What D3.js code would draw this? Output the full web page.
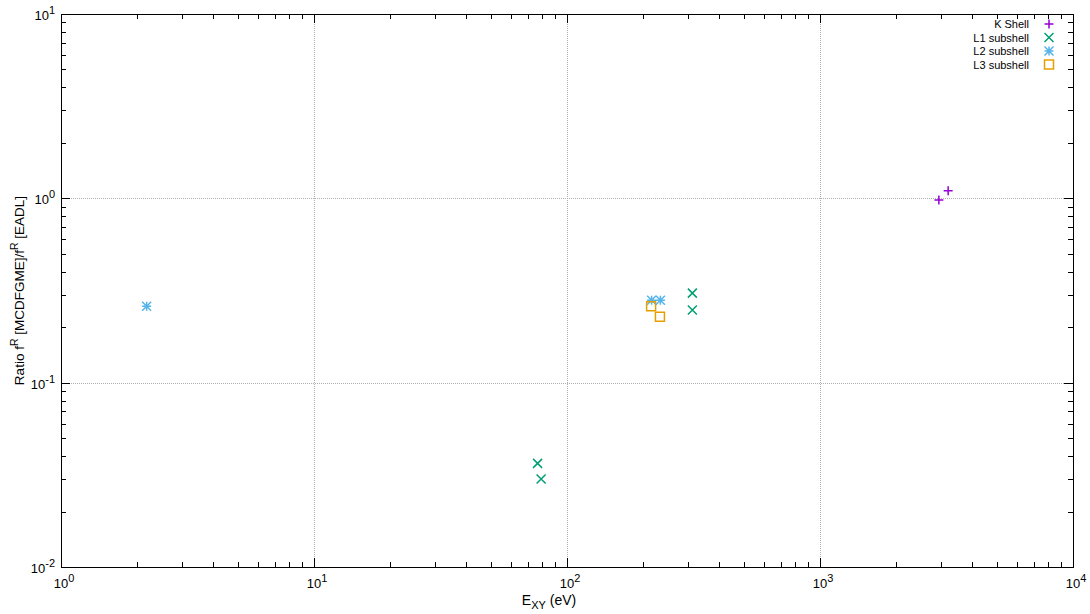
<!DOCTYPE html>
<html>
<head>
<meta charset="utf-8">
<script src="https://cdn.jsdelivr.net/npm/d3@7"></script>
<style>
  body { margin: 0; background: #fff; }
  svg { display: block; font-family: "Liberation Sans", Arial, sans-serif; }
</style>
</head>
<body>
<div id="chart"></div>
<script>
// data
const kShell = [[2950, 0.98], [3210, 1.10]];
const l1Shell = [[76.5, 0.0365], [79, 0.030], [313, 0.306], [313, 0.248]];
const l2Shell = [[2.18, 0.26], [216, 0.28], [234, 0.28]];
const l3Shell = [[215, 0.26], [233, 0.228]];

const SERIES = [
  { name: 'K Shell', pts: kShell, color: '#9400d3', sym: 'plus' },
  { name: 'L1 subshell', pts: l1Shell, color: '#009e73', sym: 'cross' },
  { name: 'L2 subshell', pts: l2Shell, color: '#56b4e9', sym: 'star' },
  { name: 'L3 subshell', pts: l3Shell, color: '#e69f00', sym: 'square' }
];

const xMajor = [1, 10, 100, 1000, 10000];
const yMajor = [0.01, 0.1, 1, 10];

const W = 1090, H = 614;
const m = { left: 61, right: 17, top: 14, bottom: 47 };

const svg = d3.select('#chart').append('svg').attr('width', W).attr('height', H);

const x = d3.scaleLog().domain([1, 10000]).range([m.left, W - m.right]);
const y = d3.scaleLog().domain([0.01, 10]).range([H - m.bottom, m.top]);

function minors(majors) {
  const out = [];
  for (let i = 0; i < majors.length - 1; i++)
    for (let k = 2; k <= 9; k++) out.push(majors[i] * k);
  return out;
}

// grid
svg.append('g').selectAll('line').data(xMajor.slice(1, -1)).enter().append('line')
  .attr('x1', d => Math.round(x(d)) + 0.5).attr('x2', d => Math.round(x(d)) + 0.5).attr('y1', m.top).attr('y2', H - m.bottom)
  .attr('stroke', '#b0b0b0').attr('stroke-width', 1).attr('stroke-dasharray', '1,1');
svg.append('g').selectAll('line').data(yMajor.slice(1, -1)).enter().append('line')
  .attr('y1', d => Math.round(y(d)) + 0.5).attr('y2', d => Math.round(y(d)) + 0.5).attr('x1', m.left).attr('x2', W - m.right)
  .attr('stroke', '#b0b0b0').attr('stroke-width', 1).attr('stroke-dasharray', '1,1');

// ticks (inward on all four sides)
const tickG = svg.append('g').attr('stroke', '#000').attr('stroke-width', 1);
function vTicks(vals, len) {
  vals.forEach(v => {
    const px = Math.round(x(v)) + 0.5;
    tickG.append('line').attr('x1', px).attr('x2', px).attr('y1', H - m.bottom).attr('y2', H - m.bottom - len);
    tickG.append('line').attr('x1', px).attr('x2', px).attr('y1', m.top).attr('y2', m.top + len);
  });
}
function hTicks(vals, len) {
  vals.forEach(v => {
    const py = Math.round(y(v)) + 0.5;
    tickG.append('line').attr('y1', py).attr('y2', py).attr('x1', m.left).attr('x2', m.left + len);
    tickG.append('line').attr('y1', py).attr('y2', py).attr('x1', W - m.right).attr('x2', W - m.right - len);
  });
}
vTicks(xMajor, 9); vTicks(minors(xMajor), 5);
hTicks(yMajor, 9); hTicks(minors(yMajor), 5);

// frame
svg.append('rect').attr('x', m.left + 0.5).attr('y', m.top + 0.5)
  .attr('width', W - m.left - m.right).attr('height', H - m.top - m.bottom)
  .attr('fill', 'none').attr('stroke', '#000').attr('stroke-width', 1);

// tick labels
function powLabel(g, v, px, py, anchor) {
  const e = Math.round(Math.log10(v));
  const t = g.append('text').attr('x', px).attr('y', py).attr('text-anchor', anchor)
    .attr('font-size', 13).attr('fill', '#000');
  t.append('tspan').text('10');
  t.append('tspan').attr('dy', -6).attr('font-size', 11).text(e);
}
const labG = svg.append('g');
xMajor.forEach(v => powLabel(labG, v, x(v) + 3, H - m.bottom + 21, 'middle'));
yMajor.forEach(v => powLabel(labG, v, m.left - 6, y(v) + 6, 'end'));

// axis titles
const xt = svg.append('text').attr('x', 549).attr('y', 605).attr('text-anchor', 'middle')
  .attr('font-size', 14).attr('fill', '#000');
xt.append('tspan').text('E');
xt.append('tspan').attr('dy', 4).attr('font-size', 11).text('XY');
xt.append('tspan').attr('dy', -4).text(' (eV)');

const yt = svg.append('text').attr('transform', `translate(24,${(m.top + H - m.bottom) / 2}) rotate(-90)`)
  .attr('text-anchor', 'middle').attr('font-size', 13.5).attr('fill', '#000');
yt.append('tspan').text('Ratio f');
yt.append('tspan').attr('dy', -6).attr('font-size', 10.5).text('R');
yt.append('tspan').attr('dy', 6).text(' [MCDFGME]/f');
yt.append('tspan').attr('dy', -6).attr('font-size', 10.5).text('R');
yt.append('tspan').attr('dy', 6).text(' [EADL]');

// markers
const S = 4.5;
function marker(g, sym, cx, cy, color) {
  const p = d3.path();
  if (sym === 'plus' || sym === 'star') {
    p.moveTo(cx - S, cy); p.lineTo(cx + S, cy);
    p.moveTo(cx, cy - S); p.lineTo(cx, cy + S);
  }
  if (sym === 'cross' || sym === 'star') {
    p.moveTo(cx - S, cy - S); p.lineTo(cx + S, cy + S);
    p.moveTo(cx - S, cy + S); p.lineTo(cx + S, cy - S);
  }
  if (sym === 'square') {
    p.rect(cx - S, cy - S, 2 * S, 2 * S);
  }
  g.append('path').attr('d', p.toString()).attr('fill', 'none')
    .attr('stroke', color).attr('stroke-width', 1.5);
}

const ptsG = svg.append('g');
SERIES.forEach(s => {
  s.pts.forEach(d => marker(ptsG, s.sym, x(d[0]), y(d[1]), s.color));
});

// legend
const leg = svg.append('g');
SERIES.forEach((s, i) => {
  const ly = 24 + i * 13.5;
  leg.append('text').attr('x', 1029).attr('y', ly + 4).attr('text-anchor', 'end')
    .attr('font-size', 11).attr('fill', '#000').text(s.name);
  marker(leg, s.sym, 1049, ly, s.color);
});
</script>
</body>
</html>
